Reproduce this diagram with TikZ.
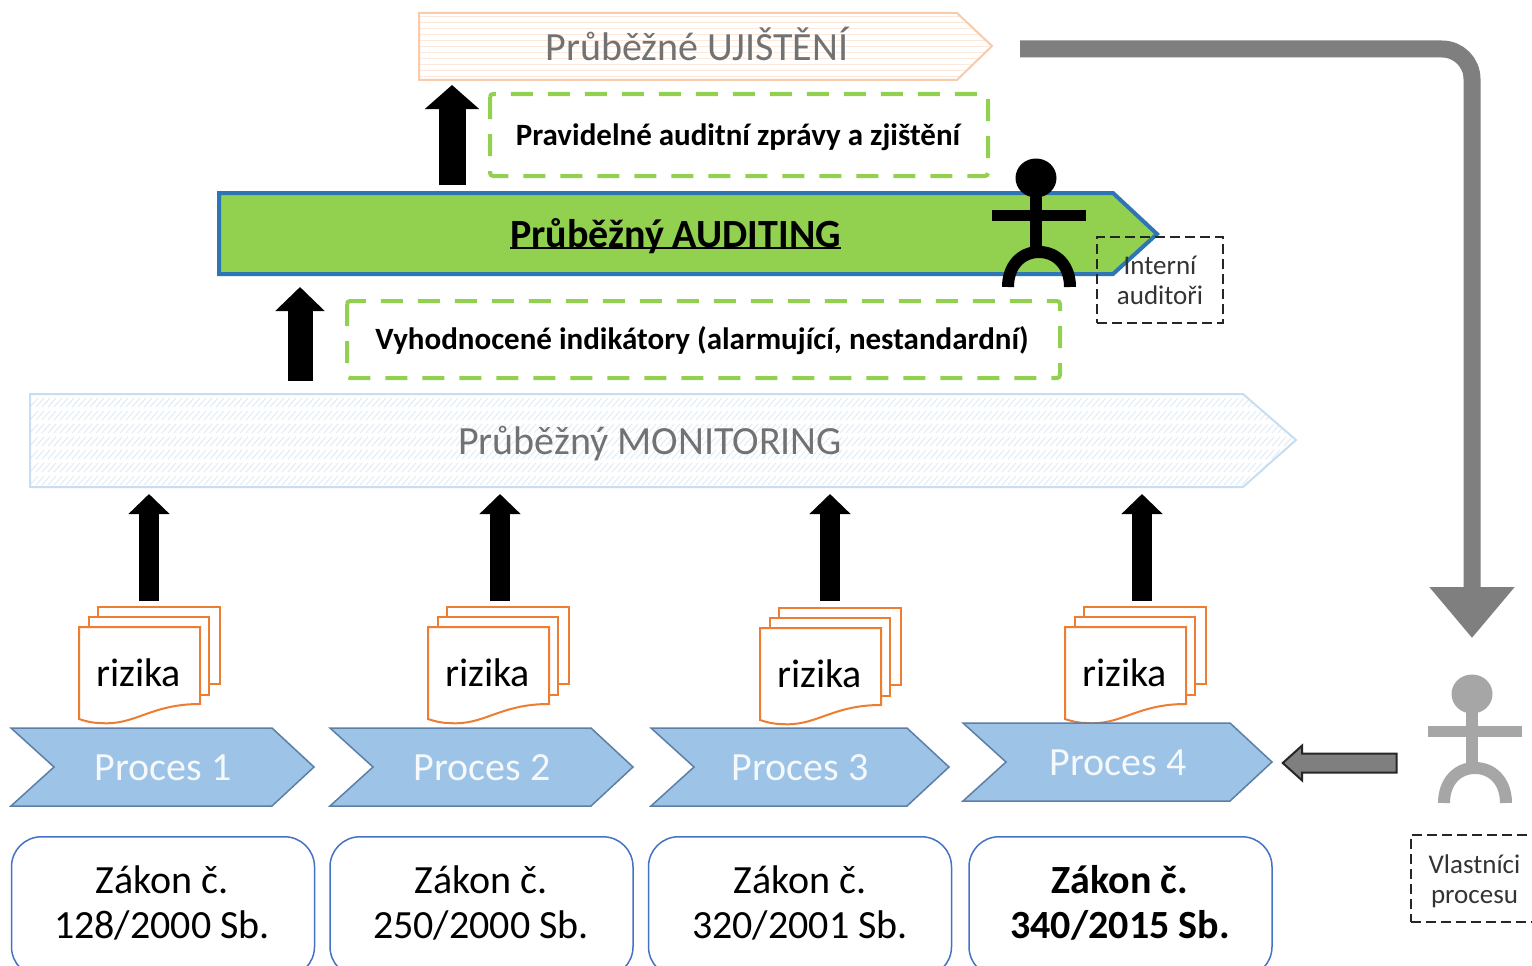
\documentclass[tikz,border=0pt]{standalone}
\usepackage{fontspec}
\setmainfont{Carlito}
\usetikzlibrary{arrows.meta,shapes.arrows}
\definecolor{cgreen}{HTML}{92D050}
\definecolor{cblue}{HTML}{2E75B6}
\definecolor{corange}{HTML}{ED7D31}
\definecolor{cproc}{HTML}{9DC3E6}
\definecolor{cprocb}{HTML}{5B7FA6}
\definecolor{cbox}{HTML}{4472C4}
\definecolor{cgray}{HTML}{7F7F7F}
\definecolor{cperson}{HTML}{A6A6A6}
\definecolor{cpeach}{HTML}{F8CBAD}
\definecolor{cstripe}{HTML}{FCE9DC}
\definecolor{cmon}{HTML}{C9DDF0}
\definecolor{chatch}{HTML}{DCE9F5}
\tikzset{
  x=1pt,y=-1pt,
  txt/.style={inner sep=0pt,align=center,font=\fontsize{#1}{#1}\selectfont},
  graytxt/.style={txt=40,text=cgray!90!black},
  smallup/.style={line width=20pt,draw=black,-{Triangle[length=20pt,width=40pt]}},
  greendash/.style={draw=cgreen,line width=4pt,dash pattern=on 22pt off 15pt,rounded corners=3pt},
  blackdash/.style={draw=black!85,line width=2pt,dash pattern=on 10pt off 5pt,inner sep=0pt,align=center,font=\fontsize{27}{30}\selectfont,text=black!80},
  labeltxt/.style={inner sep=0pt,align=center,font=\fontsize{27}{30}\selectfont,text=black!80},
  chevron/.style={fill=cproc,draw=cprocb,line width=1.5pt,line join=miter},
  proctxt/.style={txt=40,text=white!90!cproc},
  page/.style={fill=white,draw=corange,line width=2pt},
  lawbox/.style={draw=cbox,line width=1.5pt,rounded corners=30pt,fill=white,inner sep=0pt,minimum width=303pt,minimum height=140pt,anchor=north},
  lawtxt/.style={inner sep=0pt,align=center,font=\fontsize{40}{45}\selectfont},
}
% #1 x offset, #2 y offset, #3 name
\newcommand{\riskdoc}[3]{%
  \begin{scope}[shift={(#1,#2)}]
    \draw[page] (98,607) rectangle (220,684);
    \draw[page] (89,617) rectangle (209,695);
    \draw[page] (79,627) -- (200,627) -- (200,704) .. controls (150,704) and (135,726) .. (100,723) .. controls (92,723) and (85,721) .. (79,719) -- cycle;
    \node[txt=40] (#3) at (138.5,673) {rizika};
  \end{scope}}
% #1 x offset, #2 y offset, #3 name, #4 label, #5 extra width, #6 label x
\newcommand{\procshape}[6]{%
  \begin{scope}[shift={(#1,#2)}]
    \draw[chevron] (11,728) -- (272+#5,728) -- (314+#5,767) -- (272+#5,806) -- (11,806) -- (54,767) -- cycle;
    \node[proctxt] (#3) at (#6,768) {#4};
  \end{scope}}
% #1 cx, #2 cy of head, #3 colour
\newcommand{\personfig}[3]{%
  \begin{scope}[shift={(#1,#2)}]
    \fill[#3] (0,0) ellipse [x radius=20.5pt,y radius=19.5pt];
    \draw[#3,line width=12pt] (0,0) -- (0,75);
    \fill[#3] (-44,32) rectangle (50,43);
    \draw[#3,line width=12pt] (-28,109) .. controls (-28,88) and (-15,74) .. (3,74) .. controls (21,74) and (34,88) .. (34,109);
  \end{scope}}
\begin{document}
\begin{tikzpicture}
\useasboundingbox (0,0) rectangle (1532,966);
\clip (0,0) rectangle (1532,966);
\fill[white] (0,0) rectangle (1532,966);

% Prubezne ujisteni
\begin{scope}
  \clip (419,13) -- (957,13) -- (992,46) -- (957,80) -- (419,80) -- cycle;
  \foreach \yy in {17,23,...,80} \draw[cstripe,line width=1pt] (419,\yy) -- (992,\yy);
\end{scope}
\draw[cpeach,line width=2pt] (419,13) -- (957,13) -- (992,46) -- (957,80) -- (419,80) -- cycle;
\node[graytxt] (ujisteni) at (697,44) {Průběžné UJIŠTĚNÍ};

% Prubezny monitoring
\begin{scope}
  \clip (30,394) -- (1243,394) -- (1296,440) -- (1243,487) -- (30,487) -- cycle;
  \foreach \yy in {398,411,...,480}
    \foreach \xx in {30,36,...,1296}
      \draw[chatch,line width=.8pt] (\xx,\yy+9) -- (\xx+8,\yy);
\end{scope}
\draw[cmon,line width=2pt] (30,394) -- (1243,394) -- (1296,440) -- (1243,487) -- (30,487) -- cycle;
\node[graytxt] (monitoring) at (650,444) {Průběžný MONITORING};

% Prubezny auditing
\draw[fill=cgreen,draw=cblue,line width=4pt,line join=miter] (219,193) -- (1113,193) -- (1157,234) -- (1113,274) -- (219,274) -- cycle;
\node[txt=40] (auditing) at (675.5,236) {\bfseries Průběžný AUDITING};
\draw[black,line width=2.5pt] (510,248) -- (841,248);

% green dashed boxes
\draw[greendash] (490,94) rectangle (988,176);
\node[txt=31] (zpravy) at (738,137) {\bfseries Pravidelné auditní zprávy a zjištění};
\draw[greendash] (347,301) rectangle (1060,378);
\node[txt=31] (indikatory) at (702,341) {\bfseries Vyhodnocené indikátory (alarmující, nestandardní)};

% black arrows between layers
\coordinate (a1s) at (452,185); \coordinate (a1e) at (452,85);
\draw[line width=27pt,draw=black,-{Triangle[length=24pt,width=53pt]}] (a1s) -- (a1e);
\coordinate (a2s) at (300,381); \coordinate (a2e) at (300,287);
\draw[line width=25pt,draw=black,-{Triangle[length=24pt,width=48pt]}] (a2s) -- (a2e);
\foreach \ax/\n in {149/p1,500/p2,830/p3,1142/p4}{
  \coordinate (\n s) at (\ax,601); \coordinate (\n e) at (\ax,494);
  \draw[smallup] (\n s) -- (\n e);
}

% auditor figure and label
\personfig{1036}{178}{black}
\node[blackdash,minimum width=126pt,minimum height=86pt] (interni) at (1160,280) {Interní\\auditoři};

% documents
\riskdoc{0}{0}{r1}
\riskdoc{349}{0}{r2}
\riskdoc{681}{1}{r3}
\riskdoc{986}{0}{r4}

% processes
\procshape{0}{0}{p1}{Proces 1}{0}{163}
\procshape{319}{0}{p2}{Proces 2}{0}{163}
\procshape{640}{0}{p3}{Proces 3}{-5}{160}
\procshape{952}{-5}{p4}{Proces 4}{6}{166}

% laws
\node[lawbox] (z1) at (163,836) {};
\node[lawtxt] (t1) at (162,903) {Zákon č.\\128/2000 Sb.};
\node[lawbox] (z2) at (481.5,836) {};
\node[lawtxt] (t2) at (481,903) {Zákon č.\\250/2000 Sb.};
\node[lawbox] (z3) at (800,836) {};
\node[lawtxt] (t3) at (800,903) {Zákon č.\\320/2001 Sb.};
\node[lawbox] (z4) at (1120.5,836) {};
\node[lawtxt] (t4) at (1120,903) {\bfseries Zákon č.\\\bfseries 340/2015 Sb.};

% process owner
\personfig{1472}{694}{cperson}
\node[blackdash,minimum width=127pt,minimum height=87pt] (vlastnicibox) at (1474.5,878.5) {};
\node[labeltxt] (vlastnici) at (1474.5,881) {Vlastníci\\procesu};
\node[single arrow,draw=black!85,fill=cgray,line width=2pt,minimum height=114pt,minimum width=34pt,single arrow head extend=8pt,single arrow tip angle=84,inner sep=0pt,shape border rotate=180] (ownerarrow) at (1345,763) {\rule{0pt}{17pt}};

% feedback arrow
\coordinate (fbs) at (1020,49);
\coordinate (fbe) at (1472,638);
\draw[line width=17pt,draw=cgray,rounded corners=30pt,-{Triangle[length=51pt,width=82pt]}] (fbs) -- (1472,49) -- (fbe);
\end{tikzpicture}
\end{document}
